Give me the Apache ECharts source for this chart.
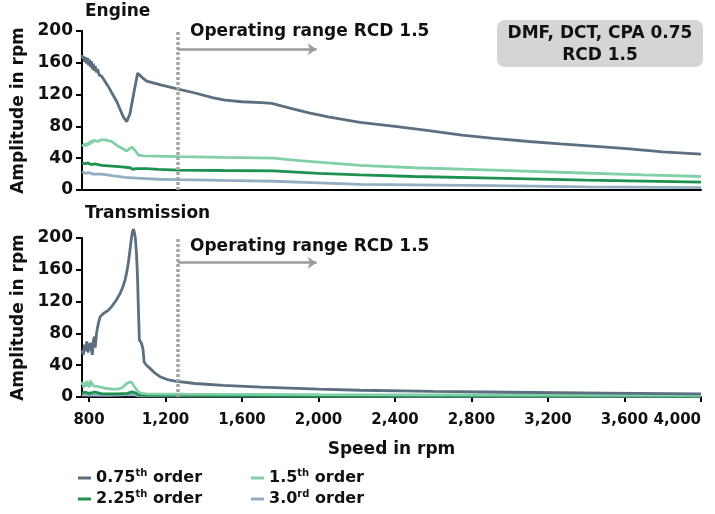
<!DOCTYPE html>
<html>
<head>
<meta charset="utf-8">
<script src="https://cdn.jsdelivr.net/npm/echarts@6/dist/echarts.min.js"></script>
<style>
  html, body { margin: 0; padding: 0; background: #fff; }
  #chart { width: 715px; height: 514px; }
</style>
</head>
<body>
<div id="chart"></div>
<script>
// x ticks on the speed axis
var speedTicks = [800, 1200, 1600, 2000, 2400, 2800, 3200, 3600, 4000];
var seriesNames = ['0.75th order', '1.5th order', '2.25th order', '3.0rd order'];

// engine side, [rpm, amplitude]
var eng075 = [[763,170],[768,165],[772,168],[777,161],[782,167],[787,159],[792,166],[797,157],[802,164],[807,155],[812,162],[817,152],[822,159],[827,150],[832,156],[838,148],[845,152],[852,145],[866,143],[901,130],[945,111],[979,92],[997,86],[1014,96],[1037,126],[1054,147],[1075,142],[1101,137],[1180,132],[1266,127],[1354,122],[1450,116],[1511,113],[1600,111],[1700,110],[1755,109],[1850,103],[1950,97],[2050,92],[2217,85],[2400,80],[2566,75],[2750,69],[2914,65],[3100,61],[3263,58],[3450,55],[3611,52],[3800,48],[4000,45]];
var eng15 = [[763,55],[768,57],[773,54],[778,58],[783,55],[788,59],[793,56],[798,60],[803,57],[808,62],[812,64],[816,59],[821,62],[826,60],[832,62],[845,61],[860,63],[884,63],[919,61],[953,55],[997,49],[1012,52],[1023,54],[1040,50],[1058,44],[1084,43],[1266,42],[1500,41],[1764,40],[1900,37],[2050,34],[2217,31],[2500,28],[2914,25],[3300,22],[3700,19],[4000,17]];
var eng225 = [[763,34],[780,33],[795,34],[810,32],[830,33],[866,31],[920,30],[971,29],[1014,28],[1030,26],[1037,25],[1046,27],[1054,28],[1100,27],[1162,26],[1266,25],[1500,24.5],[1764,24],[2000,21],[2217,19],[2500,17],[2914,15],[3400,12.5],[4000,10]];
var eng30 = [[763,23],[780,21],[800,22],[820,20],[866,20],[920,18],[988,16],[1050,15],[1162,13.5],[1266,13],[1500,12],[1764,11],[2000,9],[2217,7],[2500,6.5],[2914,5.5],[3400,4],[4000,3]];

// transmission side
var trn075 = [[763,59],[770,53],[776,66],[782,58],[788,70],[794,56],[800,55],[806,68],[811,67],[817,53],[822,70],[828,76],[832,62],[835,70],[839,80],[843,86],[850,94],[858,101],[875,105],[900,109],[919,114],[940,121],[962,130],[976,138],[988,147],[998,158],[1006,170],[1014,185],[1020,197],[1026,207],[1032,211],[1037,207],[1042,200],[1048,180],[1053,153],[1058,110],[1063,72],[1075,67],[1082,60],[1088,44],[1100,40],[1119,36],[1145,30],[1171,25.5],[1210,22],[1250,20],[1354,17],[1500,14.5],[1700,12.5],[2000,10],[2217,8.5],[2600,7],[3000,6],[3500,5],[4000,4]];
var trn15 = [[763,15],[767,19],[772,12],[777,18],[782,13],[787,20],[792,14],[797,17],[802,12],[806,21],[811,15],[816,18],[822,14],[831,16],[850,13],[884,11],[920,10],[953,10],[975,12],[997,17],[1014,19],[1025,18],[1032,15],[1040,12],[1049,9],[1060,6],[1075,4.6],[1100,4],[1300,3.5],[2000,3],[3000,2.5],[4000,2]];
var trn225 = [[763,5],[780,6],[800,4.5],[830,6],[870,4],[950,4],[1000,4.5],[1025,6.5],[1035,9],[1045,5],[1060,2.5],[1200,2],[2000,1.5],[4000,1]];
var trn30 = [[763,2.5],[900,2],[1030,3],[1060,1.5],[2000,1],[4000,0.8]];

// operating range marker
var opRpm = 1265;
var opTop = 200;
var arrowEnd = 1990;
var arrowEng = 177;
var arrowTrn = 169;

var colors = ['#5b6f80', '#82cfa8', '#1d914f', '#93adc3'];
var FONT = '"DejaVu Sans", sans-serif';

var chart = echarts.init(document.getElementById('chart'));

function opMark(arrowY) {
  var grey = '#9c9c9c';
  return {
    silent: true,
    symbol: 'none',
    label: { show: false },
    lineStyle: { type: [3, 2], width: 3.5, color: '#a5a5a5', opacity: 1 },
    data: [
      [{ coord: [opRpm, 0], symbol: 'none' },
       { coord: [opRpm, opTop], symbol: 'none' }],
      [{ coord: [opRpm, arrowY], symbol: 'none', lineStyle: { type: 'solid', width: 2.5, color: grey } },
       { coord: [arrowEnd, arrowY], symbol: 'arrow', symbolSize: [9, 9] }]
    ]
  };
}

function mkSeries(name, data, idx, color, mark) {
  var s = {
    name: name,
    type: 'line',
    xAxisIndex: idx,
    yAxisIndex: idx,
    data: data,
    showSymbol: false,
    clip: false,
    color: color,
    lineStyle: { width: 2.8, color: color },
    emphasis: { disabled: true }
  };
  if (mark) s.markLine = mark;
  return s;
}

function xAxisCfg(idx, bottom) {
  return {
    type: 'value',
    gridIndex: idx,
    min: 763,
    max: 4000,
    splitLine: { show: false },
    axisLine: { show: true, onZero: false, lineStyle: { color: '#000', width: 2 } },
    axisTick: { show: bottom, length: 5, customValues: speedTicks, lineStyle: { color: '#000', width: 2 } },
    axisLabel: {
      show: bottom,
      customValues: speedTicks,
      margin: 16,
      alignMaxLabel: 'right',
      color: '#111',
      fontFamily: FONT,
      fontWeight: 'bold',
      fontSize: 15,
      formatter: function (v) { return v.toLocaleString('en-US'); }
    },
    name: bottom ? 'Speed in rpm' : '',
    nameLocation: 'middle',
    nameGap: 44,
    nameTextStyle: { color: '#111', fontFamily: FONT, fontWeight: 'bold', fontSize: 17 }
  };
}

function yAxisCfg(idx) {
  return {
    type: 'value',
    gridIndex: idx,
    min: 0,
    max: 200,
    interval: 40,
    splitLine: { show: false },
    axisLine: { show: true, lineStyle: { color: '#000', width: 2 } },
    axisTick: { show: true, length: 6, lineStyle: { color: '#000', width: 2 } },
    axisLabel: { margin: 9, color: '#111', fontFamily: FONT, fontWeight: 'bold', fontSize: 17 },
    name: 'Amplitude in rpm',
    nameLocation: 'middle',
    nameGap: 52,
    nameTextStyle: { color: '#111', fontFamily: FONT, fontWeight: 'bold', fontSize: 17 }
  };
}

function legendFmt(name) {
  var m = name.match(/^([\d.]+)(\w\w)( order)$/);
  return '{n|' + m[1] + '}{s|' + m[2] + '}{n|' + m[3] + '}';
}

var legendText = {
  color: '#111',
  fontFamily: FONT,
  fontWeight: 'bold',
  fontSize: 16,
  rich: {
    n: { fontFamily: FONT, fontWeight: 'bold', fontSize: 16, color: '#111', lineHeight: 20 },
    s: { fontFamily: FONT, fontWeight: 'bold', fontSize: 10, color: '#111', verticalAlign: 'top', lineHeight: 12 }
  }
};

function legendCfg(left, names) {
  return {
    orient: 'vertical',
    left: left,
    top: 468,
    padding: 0,
    itemGap: 3,
    itemWidth: 13,
    itemHeight: 3,
    icon: 'rect',
    selectedMode: false,
    data: names,
    formatter: legendFmt,
    textStyle: legendText
  };
}

function txt(x, y, text, align) {
  return {
    type: 'text',
    x: x,
    y: y,
    style: {
      text: text,
      font: 'bold 17px ' + FONT,
      fill: '#111',
      align: align || 'left',
      verticalAlign: 'middle',
      textAlign: align || 'left',
      textVerticalAlign: 'middle'
    }
  };
}

chart.setOption({
  animation: false,
  backgroundColor: '#fff',
  grid: [
    { left: 82, top: 31, width: 619, height: 159 },
    { left: 82, top: 238, width: 619, height: 159 }
  ],
  xAxis: [xAxisCfg(0, false), xAxisCfg(1, true)],
  yAxis: [yAxisCfg(0), yAxisCfg(1)],
  legend: [
    legendCfg(78, [seriesNames[0], seriesNames[2]]),
    legendCfg(251, [seriesNames[1], seriesNames[3]])
  ],
  graphic: [
    txt(85, 12, 'Engine'),
    txt(85, 214, 'Transmission'),
    txt(190, 32, 'Operating range RCD 1.5'),
    txt(190, 247, 'Operating range RCD 1.5'),
    {
      type: 'rect',
      shape: { x: 497, y: 20, width: 206, height: 47, r: 8 },
      style: { fill: '#d4d5d6' }
    },
    txt(600, 34, 'DMF, DCT, CPA 0.75', 'center'),
    txt(600, 56, 'RCD 1.5', 'center')
  ],
  series: [
    mkSeries(seriesNames[3], eng30, 0, colors[3]),
    mkSeries(seriesNames[2], eng225, 0, colors[2]),
    mkSeries(seriesNames[1], eng15, 0, colors[1]),
    mkSeries(seriesNames[0], eng075, 0, colors[0], opMark(arrowEng)),
    mkSeries(seriesNames[3], trn30, 1, colors[3]),
    mkSeries(seriesNames[2], trn225, 1, colors[2]),
    mkSeries(seriesNames[1], trn15, 1, colors[1]),
    mkSeries(seriesNames[0], trn075, 1, colors[0], opMark(arrowTrn))
  ]
});
</script>
</body>
</html>
